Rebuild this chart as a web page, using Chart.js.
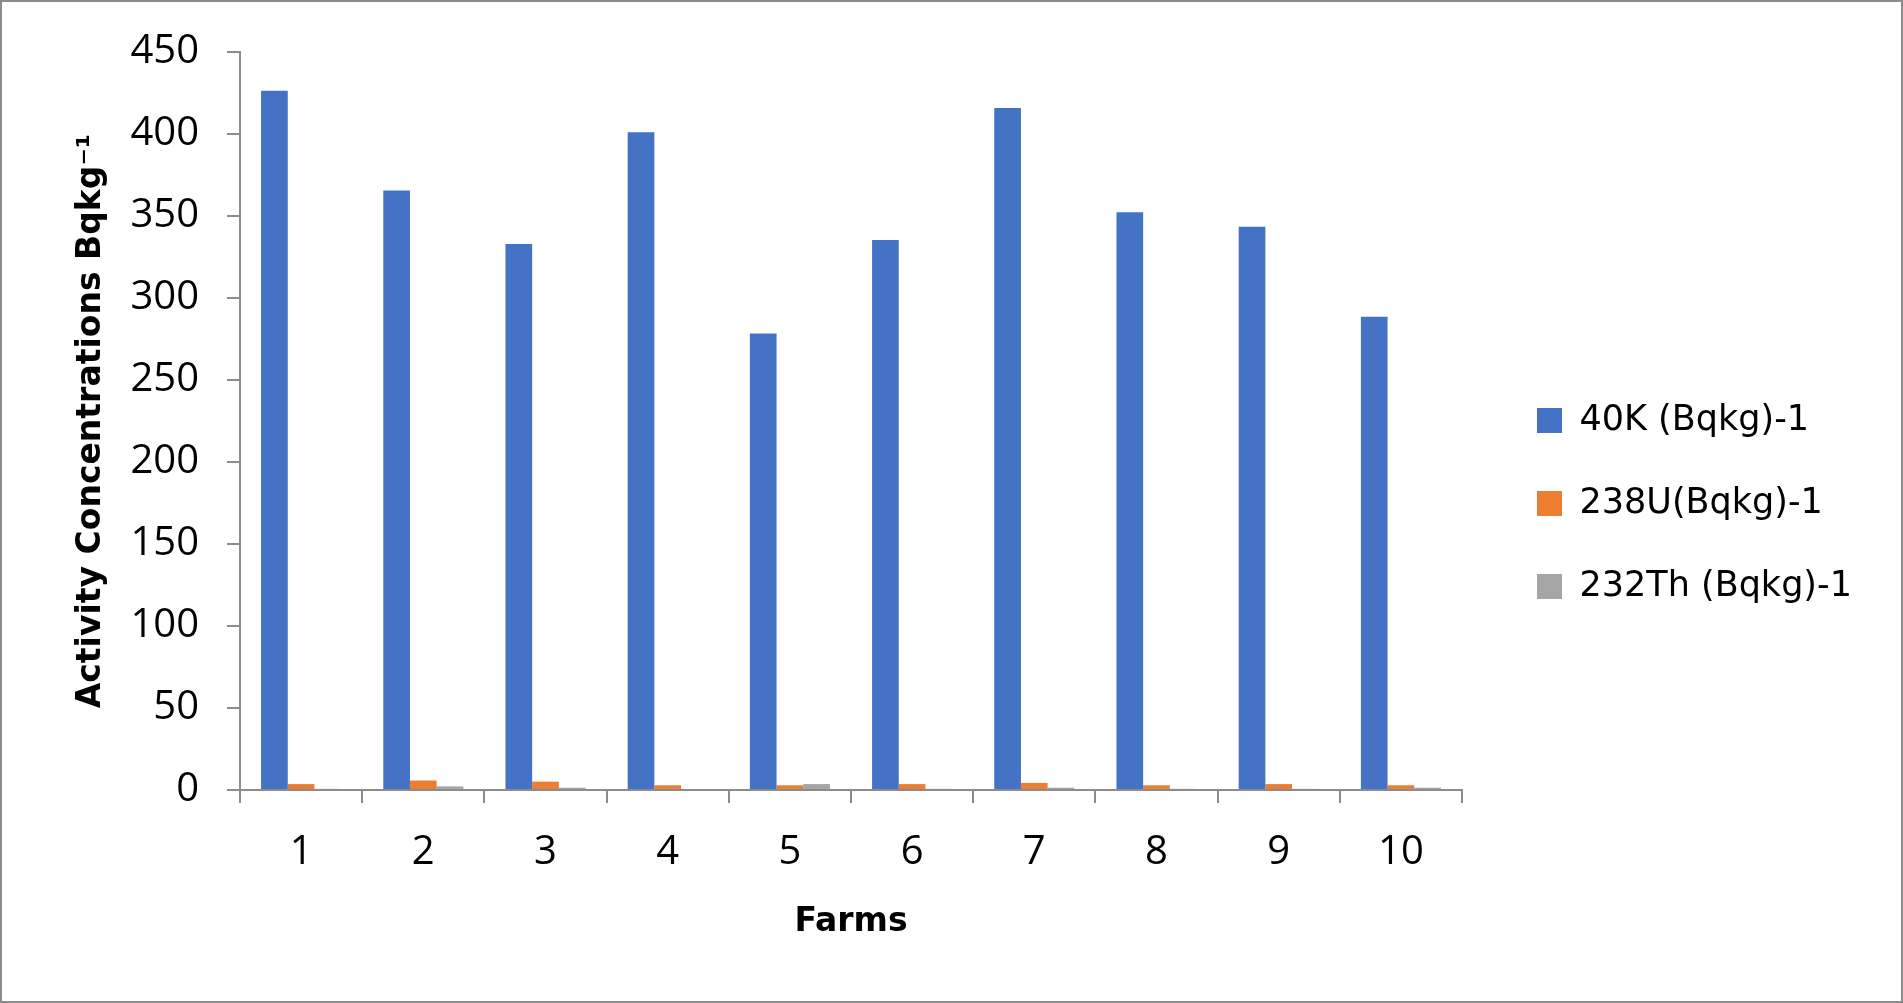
<!DOCTYPE html>
<html>
<head>
<meta charset="utf-8">
<script src="https://cdn.jsdelivr.net/npm/chart.js@4.4.1/dist/chart.umd.min.js"></script>
<style>
html,body{margin:0;padding:0;background:#fff;overflow:hidden}
canvas{display:block}
</style>
</head>
<body>
<canvas id="c" width="1903" height="1003"></canvas>
<script>
// ---- data ----
const farms = ['1', '2', '3', '4', '5', '6', '7', '8', '9', '10'];
const k40 = [426.3, 365.6, 333.0, 401.1, 278.3, 335.3, 415.9, 352.3, 343.4, 288.6];
const u238 = [3.6, 5.8, 5.1, 2.9, 2.9, 3.6, 4.3, 2.9, 3.6, 2.9];
const th232 = [0.7, 2.2, 1.4, 0.0, 3.6, 0.7, 1.4, 0.7, 0.7, 1.4];
const seriesLabels = ['40K (Bqkg)-1', '238U(Bqkg)-1', '232Th (Bqkg)-1'];
const yTicks = [0, 50, 100, 150, 200, 250, 300, 350, 400, 450];
const xTitle = 'Farms';
const yTitle = 'Activity Concentrations Bqkg\u207B\u00B9';

const AXIS = '#8c8c8c';
const LEGEND_BOX_LEFT = 1537;
const LEGEND_DY = 6;

const frame = {
  id: 'frame',
  afterLayout(chart) {
    const lg = chart.legend;
    if (lg) {
      const pad = chart.options.plugins.legend.labels.padding;
      const dx = LEGEND_BOX_LEFT - (lg.left + pad);
      lg.left += dx;
      lg.right = chart.width - 3;
      lg.top += LEGEND_DY; lg.bottom += LEGEND_DY;
    }
  },
  afterDraw(chart) {
    const ctx = chart.ctx;
    ctx.save();
    ctx.strokeStyle = AXIS;
    ctx.lineWidth = 2;
    ctx.strokeRect(1, 1, chart.width - 2, chart.height - 2);
    ctx.restore();
  }
};

new Chart(document.getElementById('c'), {
  type: 'bar',
  data: {
    labels: farms,
    datasets: [
      { label: seriesLabels[0], data: k40, backgroundColor: '#4472C4' },
      { label: seriesLabels[1], data: u238, backgroundColor: '#ED7D31' },
      { label: seriesLabels[2], data: th232, backgroundColor: '#A5A5A5' }
    ]
  },
  options: {
    responsive: false,
    devicePixelRatio: 1,
    animation: false,
    categoryPercentage: 0.655,
    barPercentage: 1.0,
    layout: { padding: { left: 60, top: 52, right: 141, bottom: 60 } },
    plugins: {
      tooltip: { enabled: false },
      legend: {
        position: 'right',
        align: 'center',
        maxWidth: 300,
        labels: {
          boxWidth: 25,
          boxHeight: 25,
          padding: 48,
          color: '#000',
          font: { family: 'DejaVu Sans', size: 35 }
        }
      }
    },
    scales: {
      x: {
        grid: { display: true, offset: true, drawOnChartArea: false, drawTicks: true, tickLength: 13, color: AXIS, lineWidth: 2 },
        border: { display: true, color: AXIS, width: 2 },
        ticks: { color: '#000', padding: 26, font: { family: 'Open Sans', size: 40 } },
        title: { display: true, text: xTitle, color: '#000', padding: { top: 0, bottom: 1 }, font: { family: 'DejaVu Sans', size: 33, weight: 'bold' } },
        afterFit(scale) { scale.height = 153; }
      },
      y: {
        min: 0,
        max: 450,
        afterBuildTicks(scale) { scale.ticks = yTicks.map(v => ({ value: v })); },
        grid: { display: true, drawOnChartArea: false, drawTicks: true, tickLength: 13, color: AXIS, lineWidth: 2 },
        border: { display: true, color: AXIS, width: 2 },
        ticks: { color: '#000', padding: 28, font: { family: 'Open Sans', size: 40 } },
        title: { display: true, text: yTitle, color: '#000', padding: { top: 12, bottom: 10 }, font: { family: 'DejaVu Sans', size: 33, weight: 'bold' } },
        afterFit(scale) { scale.width = 180; }
      }
    }
  },
  plugins: [frame]
});
</script>
</body>
</html>
